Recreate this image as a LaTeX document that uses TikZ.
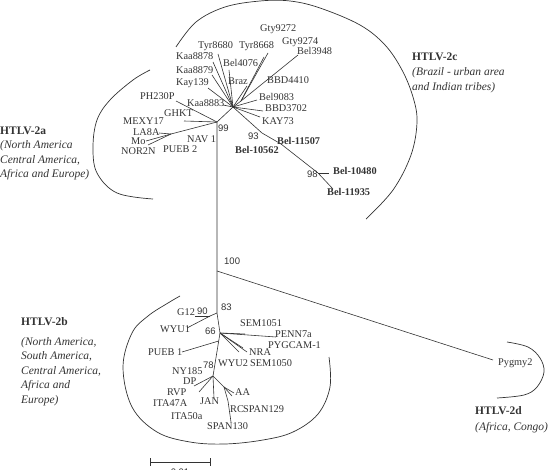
\documentclass[tikz,border=0pt]{standalone}
\usepackage{fontspec}
\setmainfont{Liberation Serif}
\newfontfamily\bsfont{Liberation Sans}
\definecolor{ink}{HTML}{333333}
\begin{document}
\begin{tikzpicture}[x=1pt,y=-1pt,
 lbl/.style={anchor=mid west, inner sep=0pt, font=\fontsize{10.3}{12}\selectfont, text=ink},
 blbl/.style={anchor=mid west, inner sep=0pt, font=\fontsize{10.3}{12}\selectfont\bfseries, text=ink},
 bsv/.style={anchor=mid west, inner sep=0pt, font=\bsfont\fontsize{9.5}{11}\selectfont, text=ink},
 hdr/.style={anchor=mid west, inner sep=0pt, font=\fontsize{11.5}{13}\selectfont\bfseries, text=ink},
 desc/.style={anchor=mid west, inner sep=0pt, font=\fontsize{11.5}{13}\selectfont\itshape, text=ink},
 br/.style={draw=ink, line width=0.6pt},
 cladearc/.style={draw=ink, line width=0.7pt}]
\useasboundingbox (0,0) rectangle (548,470);

% ---------- clade arcs ----------
\draw[cladearc] plot[smooth, tension=0.6] coordinates {(176,47) (196,22) (225,7) (260,1) (290,1) (320,8) (360,25) (385,45) (402,70) (413,97) (417,122) (411,155) (393,190) (366,219)};
\draw[cladearc] plot[smooth, tension=0.6] coordinates {(150,70) (133,80) (110,100) (97,120) (93,147) (97,173) (117,193) (153,199)};
\draw[cladearc] plot[smooth, tension=0.6] coordinates {(180,296) (168,303) (148,316) (132,333) (123,367) (132,407) (157,432) (190,442) (225,444) (263,440) (293,432) (318,414) (330,387) (329,357)};
\draw[cladearc] plot[smooth, tension=0.6] coordinates {(507,342) (528,347) (540,358) (544,372) (537,387) (524,395) (497,398)};

% ---------- tree coordinates ----------
\coordinate (V1) at (217,122);
\coordinate (c0) at (233,107);
\coordinate (c1) at (241,101);
\coordinate (eTyr80) at (218,54);
\coordinate (eKaa78) at (213,62);
\coordinate (eKaa79) at (212,75);
\coordinate (eKay139) at (208,88);
\coordinate (eKaa83) at (223,105);
\coordinate (eBel4076) at (229,70);
\coordinate (eBraz) at (247,86);
\coordinate (eTyr68) at (268,53);
\coordinate (eTyr68b) at (264,57);
\coordinate (eBel3948) at (298,55);
\coordinate (eBel9083) at (257,100);
\coordinate (eBBD3702) at (263,111);
\coordinate (eKAY73) at (260,117);
\coordinate (n93) at (262,133);
\coordinate (n1) at (281,144);
\coordinate (n98) at (318,173);
\coordinate (eBel11935) at (333,189);
\coordinate (eBel10480) at (329,173);

\coordinate (a1) at (171,134);
\coordinate (ePH) at (176,101);
\coordinate (eGHKT) at (184,121);
\coordinate (eLA8A) at (159,133);
\coordinate (eMo) at (146,141);
\coordinate (eNOR) at (148,145);

\coordinate (V100) at (217,271);
\coordinate (V83) at (217,313);
\coordinate (B1) at (220,333);
\coordinate (ePyg) at (493,360);
\coordinate (n90) at (210,316);
\coordinate (eG12) at (195,316);
\coordinate (eWYU1) at (187,328);
\coordinate (eSEM1051) at (245,334);
\coordinate (ePENN) at (276,337);
\coordinate (eNRA1) at (243,348);
\coordinate (eNRA2) at (247,352);
\coordinate (eNRA3) at (239,352);
\coordinate (B2) at (213,376);
\coordinate (eP1s) at (218.7,341);
\coordinate (eP1) at (182,352);
\coordinate (eDP) at (194,386);
\coordinate (eRVP) at (199,392);
\coordinate (eJAN) at (214,398);
\coordinate (B3) at (224,387);
\coordinate (eAA1) at (234,393);
\coordinate (eAA2) at (232,396);
\coordinate (B4) at (228,401);
\coordinate (eSPAN130) at (231,422);

% ---------- branches ----------
% HTLV-2c
\draw[br] (V1) -- (c0);
\draw[br] (c0) -- (eTyr80);
\draw[br] (c0) -- (eKaa78);
\draw[br] (c0) -- (eKaa79);
\draw[br] (c0) -- (eKay139);
\draw[br] (c0) -- (eKaa83);
\draw[br] (c0) -- (eBel4076);
\draw[br] (c0) -- (eBraz);
\draw[br] (c0) -- (c1);
\draw[br] (c1) -- (eTyr68);
\draw[br] (c1) -- (eTyr68b);
\draw[br] (c1) -- (eBel3948);
\draw[br] (c0) -- (eBel9083);
\draw[br] (c0) -- (eBBD3702);
\draw[br] (c0) -- (eKAY73);
\draw[br] (c0) -- (n93) -- (n1) -- (n98) -- (eBel11935);
\draw[br] (n98) -- (eBel10480);
% HTLV-2a
\draw[br] (V1) -- (ePH);
\draw[br] (V1) -- (eGHKT);
\draw[br] (V1) -- (a1);
\draw[br] (a1) -- (eLA8A);
\draw[br] (a1) -- (eMo);
\draw[br] (a1) -- (eNOR);
% backbone
\draw[br] (V1) -- (V100) -- (V83) -- (B1) -- (B2);
\draw[br] (V100) -- (ePyg);
% HTLV-2b
\draw[br] (V83) -- (n90);
\draw[br] (n90) -- (eG12);
\draw[br] (n90) -- (eWYU1);
\draw[br] (B1) -- (eSEM1051);
\draw[br] (B1) -- (ePENN);
\draw[br] (B1) -- (eNRA1);
\draw[br] (B1) -- (eNRA2);
\draw[br] (B1) -- (eNRA3);
\draw[br] (eP1) -- (eP1s);
\draw[br] (B2) -- (eDP);
\draw[br] (B2) -- (eRVP);
\draw[br] (B2) -- (eJAN);
\draw[br] (B2) -- (B3);
\draw[br] (B3) -- (eAA1);
\draw[br] (B3) -- (eAA2);
\draw[br] (B3) -- (B4) -- (eSPAN130);

% ---------- labels HTLV-2c ----------
\node[lbl] (lGty72) at (260,29) {Gty9272};
\node[lbl] (lGty74) at (282,42) {Gty9274};
\node[lbl] (lBel3948) at (297,52) {Bel3948};
\node[lbl] (lTyr80) at (198,46) {Tyr8680};
\node[lbl] (lTyr68) at (239,46) {Tyr8668};
\node[lbl] (lKaa78) at (176,57) {Kaa8878};
\node[lbl] (lKaa79) at (176,71) {Kaa8879};
\node[lbl] (lKay139) at (176,83) {Kay139};
\node[lbl] (lBel4076) at (223,64) {Bel4076};
\node[lbl] (lBraz) at (228,82) {Braz};
\node[lbl] (lBBD4410) at (267,81) {BBD4410};
\node[lbl] (lBel9083) at (259,98) {Bel9083};
\node[lbl] (lKaa83) at (187,104) {Kaa8883};
\node[lbl] (lBBD3702) at (265,109) {BBD3702};
\node[lbl] (lKAY73) at (262,122) {KAY73};
\node[blbl] (lB11507) at (277,142) {Bel-11507};
\node[blbl] (lB10562) at (235,151) {Bel-10562};
\node[blbl] (lB10480) at (333,172) {Bel-10480};
\node[blbl] (lB11935) at (327,193) {Bel-11935};
\node[bsv] (b99) at (218,129) {99};
\node[bsv] (b93) at (248,137) {93};
\node[bsv] (b98) at (307,175) {98};

% ---------- labels HTLV-2a ----------
\node[lbl] (lPH) at (140,97) {PH230P};
\node[lbl] (lGHKT) at (164,114) {GHKT};
\node[lbl] (lMEXY) at (123,122) {MEXY17};
\node[lbl] (lLA8A) at (133,133) {LA8A};
\node[lbl] (lMo) at (131,142) {Mo};
\node[lbl] (lNOR) at (121,152) {NOR2N};
\node[lbl] (lPUEB2) at (163,150) {PUEB 2};
\node[lbl] (lNAV) at (187,140) {NAV 1};

% ---------- labels HTLV-2b / 2d ----------
\node[bsv] (b100) at (224,262) {100};
\node[lbl] (lPyg) at (498,363) {Pygmy2};
\node[lbl] (lG12) at (177,313) {G12};
\node[bsv] (b90) at (197,312) {90};
\node[bsv] (b83) at (221,308) {83};
\node[lbl] (lWYU1) at (160,330) {WYU1};
\node[bsv] (b66) at (205,332) {66};
\node[lbl] (lSEM1051) at (240,324) {SEM1051};
\node[lbl] (lPENN) at (275,335) {PENN7a};
\node[lbl] (lPYG) at (268,346) {PYGCAM-1};
\node[lbl] (lNRA) at (249,353) {NRA};
\node[lbl] (lSEM1050) at (250,364) {SEM1050};
\node[lbl] (lWYU2) at (218,364) {WYU2};
\node[bsv] (b78) at (203,366) {78};
\node[lbl] (lPUEB1) at (148,353) {PUEB 1};
\node[lbl] (lNY) at (172,372) {NY185};
\node[lbl] (lDP) at (183,382) {DP};
\node[lbl] (lRVP) at (167,393) {RVP};
\node[lbl] (lITA47) at (153,404) {ITA47A};
\node[lbl] (lJAN) at (200,402) {JAN};
\node[lbl] (lITA50) at (171,417) {ITA50a};
\node[lbl] (lAA) at (235,393) {AA};
\node[lbl] (lRC) at (230,410) {RC};
\node[lbl] (lSPAN129) at (243,410) {SPAN129};
\node[lbl] (lSPAN130) at (207,427) {SPAN130};

% ---------- clade headers ----------
\node[hdr] (h2a) at (0,132) {HTLV-2a};
\node[desc] (d2a1) at (0,146) {(North America};
\node[desc] (d2a2) at (0,161) {Central America,};
\node[desc] (d2a3) at (0,175) {Africa and Europe)};

\node[hdr] (h2c) at (412,58) {HTLV-2c};
\node[desc] (d2c1) at (412,73) {(Brazil - urban area};
\node[desc] (d2c2) at (412,88) {and Indian tribes)};

\node[hdr] (h2b) at (21,323) {HTLV-2b};
\node[desc] (d2b1) at (21,343) {(North America,};
\node[desc] (d2b2) at (21,357) {South America,};
\node[desc] (d2b3) at (21,372) {Central America,};
\node[desc] (d2b4) at (21,386) {Africa and};
\node[desc] (d2b5) at (21,401) {Europe)};

\node[hdr] (h2d) at (475,412) {HTLV-2d};
\node[desc] (d2d1) at (475,428) {(Africa, Congo)};

% ---------- scale bar ----------
\coordinate (sL) at (150,462);
\coordinate (sR) at (210,462);
\draw[br] (sL) -- (sR);
\draw[br] ([yshift=-4pt]sL) -- ([yshift=4pt]sL);
\draw[br] ([yshift=-4pt]sR) -- ([yshift=4pt]sR);
\node[anchor=base, inner sep=0pt, font=\bsfont\fontsize{9.5}{11}\selectfont, text=ink] (scl) at (180,475) {0.01};
\end{tikzpicture}
\end{document}
